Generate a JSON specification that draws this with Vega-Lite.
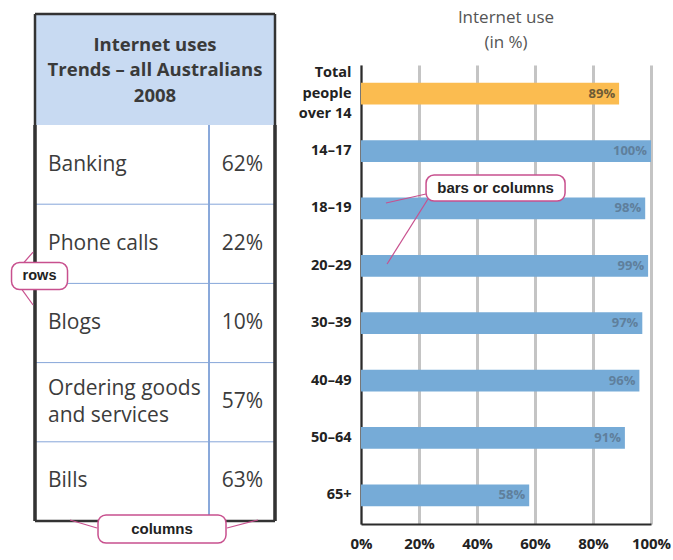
{
  "$schema": "https://vega.github.io/schema/vega-lite/v6.json",
  "padding": {"left": 8, "top": 9, "right": 2, "bottom": 2},
  "spacing": 21,
  "config": {"view": {"stroke": null}, "font": "Open Sans"},
  "hconcat": [
    {
      "vconcat": [
        {
          "width": 240,
          "height": 111,
          "view": {"fill": "#c8daf2", "stroke": null},
          "data": {"values": [{"t": "Internet uses\nTrends – all Australians\n2008"}]},
          "layer": [
            {"mark": {"type": "text", "lineBreak": "\n", "fontSize": 18.5, "fontWeight": "bold", "lineHeight": 25.5, "color": "#3a3a3a", "baseline": "middle", "dy": -25}, "encoding": {"text": {"field": "t"}}},
            {"mark": {"type": "rule", "color": "#333333", "strokeWidth": 2.5}, "encoding": {"x": {"datum": 0, "type": "quantitative", "scale": {"domain": [0, 1]}, "axis": null}}},
            {"mark": {"type": "rule", "color": "#333333", "strokeWidth": 2.5}, "encoding": {"x": {"datum": 1, "type": "quantitative", "scale": {"domain": [0, 1]}, "axis": null}}},
            {"mark": {"type": "rule", "color": "#333333", "strokeWidth": 2.5}, "encoding": {"y": {"datum": 1, "type": "quantitative", "scale": {"domain": [0, 1]}, "axis": null}}}
          ]
        },
        {
          "hconcat": [
            {
              "width": 174,
              "height": 396,
              "data": {"name": "uses"},
              "resolve": {"scale": {"y": "independent"}},
              "layer": [
                {"transform": [{"filter": "datum.item != 'Bills'"}], "mark": {"type": "rule", "color": "#86a6d9", "strokeWidth": 1}, "encoding": {"y": {"field": "item", "type": "nominal", "bandPosition": 1, "scale": {"domain": ["Banking", "Phone calls", "Blogs", "Ordering goods\nand services", "Bills"], "paddingInner": 0, "paddingOuter": 0}, "axis": null}}},
                {"mark": {"type": "rule", "color": "#86a6d9", "strokeWidth": 1}, "encoding": {"x": {"datum": 1, "type": "quantitative", "scale": {"domain": [0, 1]}, "axis": null}}},
                {"mark": {"type": "rule", "color": "#333333", "strokeWidth": 2.5}, "encoding": {"x": {"datum": 0, "type": "quantitative", "scale": {"domain": [0, 1]}, "axis": null}}},
                {"transform": [{"filter": "datum.item == 'Bills'"}], "mark": {"type": "rule", "color": "#333333", "strokeWidth": 2.5}, "encoding": {"y": {"field": "item", "type": "nominal", "bandPosition": 1, "scale": {"domain": ["Banking", "Phone calls", "Blogs", "Ordering goods\nand services", "Bills"], "paddingInner": 0, "paddingOuter": 0}, "axis": null}}},
                {"transform": [{"filter": "datum.item != 'Ordering goods\\nand services'"}], "mark": {"type": "text", "align": "left", "dx": 13, "fontSize": 21, "color": "#3c3c3c", "baseline": "middle"}, "encoding": {"x": {"datum": 0, "type": "quantitative", "scale": {"domain": [0, 1]}, "axis": null}, "y": {"field": "item", "type": "nominal", "scale": {"domain": ["Banking", "Phone calls", "Blogs", "Ordering goods\nand services", "Bills"], "paddingInner": 0, "paddingOuter": 0}, "axis": null}, "text": {"field": "item"}}},
                {"transform": [{"filter": "datum.item == 'Ordering goods\\nand services'"}], "mark": {"type": "text", "align": "left", "dx": 13, "dy": -13.5, "fontSize": 21, "color": "#3c3c3c", "baseline": "middle", "lineBreak": "\n", "lineHeight": 27}, "encoding": {"x": {"datum": 0, "type": "quantitative", "scale": {"domain": [0, 1]}, "axis": null}, "y": {"field": "item", "type": "nominal", "scale": {"domain": ["Banking", "Phone calls", "Blogs", "Ordering goods\nand services", "Bills"], "paddingInner": 0, "paddingOuter": 0}, "axis": null}, "text": {"field": "item"}}},
                {"data": {"values": [{"a": 1}]}, "mark": {"type": "rule", "color": "#c8508e", "strokeWidth": 1.2}, "encoding": {"x": {"datum": -0.011, "type": "quantitative", "scale": {"domain": [0, 1]}, "axis": null}, "x2": {"datum": -0.086}, "y": {"datum": 1.604, "type": "quantitative", "scale": {"domain": [0, 5], "reverse": true, "nice": false, "zero": false}, "axis": null}, "y2": {"datum": 1.793}}},
                {"data": {"values": [{"a": 1}]}, "mark": {"type": "rule", "color": "#c8508e", "strokeWidth": 1.2}, "encoding": {"x": {"datum": -0.011, "type": "quantitative", "scale": {"domain": [0, 1]}, "axis": null}, "x2": {"datum": -0.086}, "y": {"datum": 2.273, "type": "quantitative", "scale": {"domain": [0, 5], "reverse": true, "nice": false, "zero": false}, "axis": null}, "y2": {"datum": 2.045}}},
                {"data": {"values": [{"label": "rows"}]}, "mark": {"type": "point", "filled": true, "fill": "#ffffff", "opacity": 1, "stroke": "#c8508e", "strokeWidth": 1.5, "size": 3136, "shape": "M-0.714,-0.482L0.714,-0.482A0.286,0.286,0,0,1,1,-0.196L1,0.196A0.286,0.286,0,0,1,0.714,0.482L-0.714,0.482A0.286,0.286,0,0,1,-1,0.196L-1,-0.196A0.286,0.286,0,0,1,-0.714,-0.482Z"}, "encoding": {"x": {"datum": 0.026, "type": "quantitative", "scale": {"domain": [0, 1]}, "axis": null}, "y": {"datum": 1.907, "type": "quantitative", "scale": {"domain": [0, 5], "reverse": true, "nice": false, "zero": false}, "axis": null}}},
                {"data": {"values": [{"label": "rows"}]}, "mark": {"type": "text", "font": "Liberation Sans", "fontWeight": "bold", "fontSize": 14.5, "color": "#222222", "baseline": "middle"}, "encoding": {"x": {"datum": 0.026, "type": "quantitative", "scale": {"domain": [0, 1]}, "axis": null}, "y": {"datum": 1.907, "type": "quantitative", "scale": {"domain": [0, 5], "reverse": true, "nice": false, "zero": false}, "axis": null}, "text": {"field": "label"}}}
              ]
            },
            {
              "width": 66,
              "height": 396,
              "data": {"name": "uses"},
              "resolve": {"scale": {"y": "independent"}},
              "layer": [
                {"transform": [{"filter": "datum.item != 'Bills'"}], "mark": {"type": "rule", "color": "#86a6d9", "strokeWidth": 1}, "encoding": {"y": {"field": "item", "type": "nominal", "bandPosition": 1, "scale": {"domain": ["Banking", "Phone calls", "Blogs", "Ordering goods\nand services", "Bills"], "paddingInner": 0, "paddingOuter": 0}, "axis": null}}},
                {"mark": {"type": "rule", "color": "#333333", "strokeWidth": 2.5}, "encoding": {"x": {"datum": 1, "type": "quantitative", "scale": {"domain": [0, 1]}, "axis": null}}},
                {"transform": [{"filter": "datum.item == 'Bills'"}], "mark": {"type": "rule", "color": "#333333", "strokeWidth": 2.5}, "encoding": {"y": {"field": "item", "type": "nominal", "bandPosition": 1, "scale": {"domain": ["Banking", "Phone calls", "Blogs", "Ordering goods\nand services", "Bills"], "paddingInner": 0, "paddingOuter": 0}, "axis": null}}},
                {"mark": {"type": "text", "align": "right", "dx": -12, "fontSize": 21, "color": "#3c3c3c", "baseline": "middle"}, "encoding": {"x": {"datum": 1, "type": "quantitative", "scale": {"domain": [0, 1]}, "axis": null}, "y": {"field": "item", "type": "nominal", "scale": {"domain": ["Banking", "Phone calls", "Blogs", "Ordering goods\nand services", "Bills"], "paddingInner": 0, "paddingOuter": 0}, "axis": null}, "text": {"field": "pct", "format": ".0%"}}},
                {"data": {"values": [{"a": 1}]}, "mark": {"type": "rule", "color": "#c8508e", "strokeWidth": 1.2}, "encoding": {"x": {"datum": -1.697, "type": "quantitative", "scale": {"domain": [0, 1]}, "axis": null}, "x2": {"datum": -2.106}, "y": {"datum": 5.088, "type": "quantitative", "scale": {"domain": [0, 5], "reverse": true, "nice": false, "zero": false}, "axis": null}, "y2": {"datum": 4.987}}},
                {"data": {"values": [{"a": 1}]}, "mark": {"type": "rule", "color": "#c8508e", "strokeWidth": 1.2}, "encoding": {"x": {"datum": 0.273, "type": "quantitative", "scale": {"domain": [0, 1]}, "axis": null}, "x2": {"datum": 0.742}, "y": {"datum": 5.088, "type": "quantitative", "scale": {"domain": [0, 5], "reverse": true, "nice": false, "zero": false}, "axis": null}, "y2": {"datum": 4.987}}},
                {"data": {"values": [{"label": "columns"}]}, "mark": {"type": "point", "filled": true, "fill": "#ffffff", "opacity": 1, "stroke": "#c8508e", "strokeWidth": 1.5, "size": 16384, "shape": "M-0.875,-0.219L0.875,-0.219A0.125,0.125,0,0,1,1,-0.094L1,0.094A0.125,0.125,0,0,1,0.875,0.219L-0.875,0.219A0.125,0.125,0,0,1,-1,0.094L-1,-0.094A0.125,0.125,0,0,1,-0.875,-0.219Z"}, "encoding": {"x": {"datum": -0.712, "type": "quantitative", "scale": {"domain": [0, 1]}, "axis": null}, "y": {"datum": 5.101, "type": "quantitative", "scale": {"domain": [0, 5], "reverse": true, "nice": false, "zero": false}, "axis": null}}},
                {"data": {"values": [{"label": "columns"}]}, "mark": {"type": "text", "font": "Liberation Sans", "fontWeight": "bold", "fontSize": 15, "color": "#222222", "baseline": "middle"}, "encoding": {"x": {"datum": -0.712, "type": "quantitative", "scale": {"domain": [0, 1]}, "axis": null}, "y": {"datum": 5.101, "type": "quantitative", "scale": {"domain": [0, 5], "reverse": true, "nice": false, "zero": false}, "axis": null}, "text": {"field": "label"}}}
              ]
            }
          ],
          "spacing": 0,
          "bounds": "flush"
        }
      ],
      "spacing": 0,
      "bounds": "flush"
    },
    {
      "vconcat": [
        {
          "width": 290,
          "height": 33,
          "data": {"values": [{"t": "Internet use\n(in %)"}]},
          "mark": {"type": "text", "lineBreak": "\n", "fontSize": 17, "lineHeight": 25, "color": "#555555", "baseline": "middle", "dy": -12.5},
          "encoding": {"text": {"field": "t"}}
        },
        {
          "width": 290,
          "height": 459,
          "data": {"name": "usage"},
          "resolve": {"scale": {"y": "independent"}},
          "layer": [
            {"mark": {"type": "bar"}, "encoding": {
              "y": {"field": "group", "type": "nominal", "sort": null, "scale": {"paddingInner": 0.62, "paddingOuter": 0.31}, "axis": {"title": null, "domainColor": "#2b2b2b", "domainWidth": 2, "ticks": false, "tickSize": 0, "labelPadding": 10, "labelFontSize": 14.5, "labelFontWeight": "bold", "labelColor": "#222222", "labelLineHeight": 20.5, "labelOffset": {"condition": {"test": "datum.value == 'Total people over 14'", "value": -20.5}, "value": 0}, "labelExpr": "datum.value == 'Total people over 14' ? ['Total', 'people', 'over 14'] : datum.value"}},
              "x": {"field": "pct", "type": "quantitative", "scale": {"domain": [0, 1]}, "axis": {"title": null, "values": [0, 0.2, 0.4, 0.6, 0.8, 1], "format": ".0%", "grid": true, "gridColor": "#c4c4c4", "gridWidth": 3, "domainColor": "#2b2b2b", "domainWidth": 2, "ticks": false, "tickSize": 0, "labelPadding": 12, "labelFontSize": 15, "labelFontWeight": "bold", "labelColor": "#222222", "labelFlush": false}},
              "color": {"condition": {"test": "datum.group == 'Total people over 14'", "value": "#fbbc50"}, "value": "#76abd7"}}},
            {"mark": {"type": "text", "align": "right", "dx": -4, "fontSize": 13, "fontWeight": "bold"}, "encoding": {
              "y": {"field": "group", "type": "nominal", "sort": null, "scale": {"paddingInner": 0.62, "paddingOuter": 0.31}, "axis": null},
              "x": {"field": "pct", "type": "quantitative", "scale": {"domain": [0, 1]}},
              "text": {"field": "pct", "format": ".0%"},
              "color": {"condition": {"test": "datum.group == 'Total people over 14'", "value": "#6e5b35"}, "value": "#5f7f9c"}}},
            {"data": {"values": [{"a": 1}]}, "mark": {"type": "rule", "color": "#c8508e", "strokeWidth": 1.2}, "encoding": {"x": {"datum": 0.224, "type": "quantitative", "scale": {"domain": [0, 1]}}, "x2": {"datum": 0.086}, "y": {"datum": 2.248, "type": "quantitative", "scale": {"domain": [0, 8], "reverse": true, "nice": false, "zero": false}, "axis": null}, "y2": {"datum": 2.405}}},
            {"data": {"values": [{"a": 1}]}, "mark": {"type": "rule", "color": "#c8508e", "strokeWidth": 1.2}, "encoding": {"x": {"datum": 0.231, "type": "quantitative", "scale": {"domain": [0, 1]}}, "x2": {"datum": 0.09}, "y": {"datum": 2.336, "type": "quantitative", "scale": {"domain": [0, 8], "reverse": true, "nice": false, "zero": false}, "axis": null}, "y2": {"datum": 3.468}}},
            {"data": {"values": [{"label": "bars or columns"}]}, "mark": {"type": "point", "filled": true, "fill": "#ffffff", "opacity": 1, "stroke": "#c8508e", "strokeWidth": 1.5, "size": 19321, "shape": "M-0.885,-0.187L0.885,-0.187A0.115,0.115,0,0,1,1,-0.072L1,0.072A0.115,0.115,0,0,1,0.885,0.187L-0.885,0.187A0.115,0.115,0,0,1,-1,0.072L-1,-0.072A0.115,0.115,0,0,1,-0.885,-0.187Z"}, "encoding": {"x": {"datum": 0.464, "type": "quantitative", "scale": {"domain": [0, 1]}}, "y": {"datum": 2.144, "type": "quantitative", "scale": {"domain": [0, 8], "reverse": true, "nice": false, "zero": false}, "axis": null}}},
            {"data": {"values": [{"label": "bars or columns"}]}, "mark": {"type": "text", "font": "Liberation Sans", "fontWeight": "bold", "fontSize": 15, "color": "#222222", "baseline": "middle"}, "encoding": {"x": {"datum": 0.464, "type": "quantitative", "scale": {"domain": [0, 1]}}, "y": {"datum": 2.144, "type": "quantitative", "scale": {"domain": [0, 8], "reverse": true, "nice": false, "zero": false}, "axis": null}, "text": {"field": "label"}}}
          ]
        }
      ],
      "spacing": 18,
      "bounds": "flush"
    }
  ],
  "datasets": {
    "uses": [
      {"item": "Banking", "pct": 0.62},
      {"item": "Phone calls", "pct": 0.22},
      {"item": "Blogs", "pct": 0.10},
      {"item": "Ordering goods\nand services", "pct": 0.57},
      {"item": "Bills", "pct": 0.63}
    ],
    "usage": [
      {"group": "Total people over 14", "pct": 0.89},
      {"group": "14–17", "pct": 1.00},
      {"group": "18–19", "pct": 0.98},
      {"group": "20–29", "pct": 0.99},
      {"group": "30–39", "pct": 0.97},
      {"group": "40–49", "pct": 0.96},
      {"group": "50–64", "pct": 0.91},
      {"group": "65+", "pct": 0.58}
    ]
  }
}
